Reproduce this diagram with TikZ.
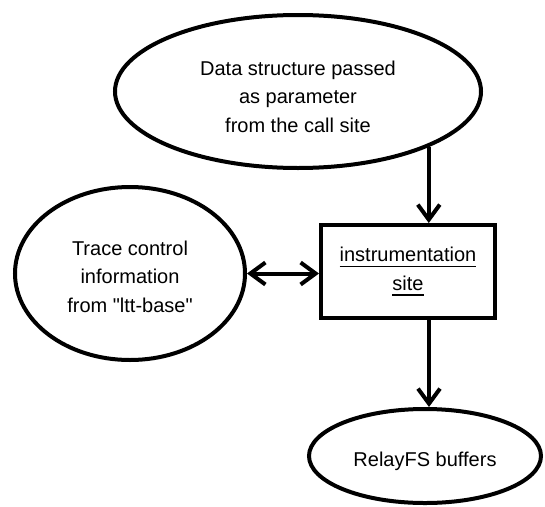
\documentclass[tikz,border=0pt]{standalone}
\usepackage{fontspec}
\setmainfont{Liberation Sans}[Ligatures=TeXOff]
\usetikzlibrary{shapes.geometric,arrows.meta}
\newcommand\myul[1]{\vtop{\hbox{#1}\kern3.5pt\hrule height 1.6pt}}
\newcommand\dn[1]{\rule{0pt}{#1}}
\tikzset{
  txt/.style={font=\fontsize{20}{28.5}\selectfont, align=center, text=black},
  oval/.style={ellipse, draw, line width=4pt, inner sep=0pt, txt},
  boxnode/.style={rectangle, draw, line width=4pt, inner sep=0pt, txt},
  arr/.style={line width=4pt, -{Straight Barb[length=15pt,width=22pt]}},
  darr/.style={line width=4pt, {Straight Barb[length=15pt,width=22pt]}-{Straight Barb[length=15pt,width=22pt]}}
}
\begin{document}
\begin{tikzpicture}[x=1pt,y=-1pt]
\useasboundingbox (0,0) rectangle (545,506);
\node[oval, minimum width=366pt, minimum height=153pt] (data) at (298,91.5)
  {\dn{25pt}Data structure passed\\as parameter\\from the call site};
\node[oval, minimum width=230pt, minimum height=173pt] (trace) at (130,273.5)
  {\dn{21pt}Trace control\\information\\from "ltt-base"};
\node[boxnode, minimum width=174pt, minimum height=93pt] (site) at (408,271.5)
  {\myul{instrumentation}\\\myul{site}};
\node[oval, minimum width=232pt, minimum height=94pt] (relay) at (425,456)
  {\dn{25pt}RelayFS buffers};
\coordinate (cx) at (429,0);
\draw[arr] (data.-23.2) -- (data.-23.2 |- site.north);
\draw[arr] (site.south -| cx) -- (relay.north -| cx);
\draw[darr] (trace.east) -- (trace.east -| site.west);
\end{tikzpicture}
\end{document}
